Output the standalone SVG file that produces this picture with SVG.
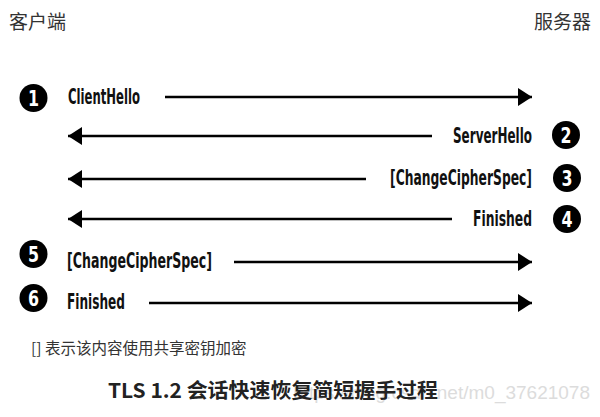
<svg xmlns="http://www.w3.org/2000/svg" width="600" height="417" viewBox="0 0 600 417">
<style>
.hdr{font-family:"Noto Sans CJK SC",sans-serif;font-size:19px;fill:#333;}
.lbl{font-family:"Liberation Sans Narrow","DejaVu Sans Condensed","Liberation Sans",sans-serif;font-weight:bold;font-size:22px;fill:#111;}
.num{font-family:"Liberation Sans Narrow","DejaVu Sans Condensed","Liberation Sans",sans-serif;font-weight:bold;font-size:22px;fill:#fff;text-anchor:middle;}
.dot{fill:#000;}
.msg{stroke:#000;stroke-width:2.6;fill:none;}
.cap{font-family:"Noto Sans CJK SC",sans-serif;font-size:15.5px;fill:#333;}
.ttl{font-family:"Noto Sans CJK SC",sans-serif;font-weight:bold;font-size:20px;fill:#222;}
.wm{font-family:"Liberation Sans",sans-serif;font-size:19px;fill:#dcdcdc;}
</style>
<defs>
<marker id="ah" markerUnits="userSpaceOnUse" markerWidth="15" markerHeight="20" refX="14" refY="10" orient="auto">
<path d="M0,1 L14,10 L0,19 Z" fill="#000"/>
</marker>
</defs>
<rect width="600" height="417" fill="#fff"/>
<g id="client"><text class="hdr" x="9" y="29">客户端</text></g>
<g id="server"><text class="hdr" x="591" y="29" text-anchor="end">服务器</text></g>

<g id="connectors">
<line class="msg" x1="165" y1="97" x2="532" y2="97" marker-end="url(#ah)"/>
<line class="msg" x1="432" y1="136" x2="68" y2="136" marker-end="url(#ah)"/>
<line class="msg" x1="366" y1="179" x2="68" y2="179" marker-end="url(#ah)"/>
<line class="msg" x1="452" y1="219" x2="68" y2="219" marker-end="url(#ah)"/>
<line class="msg" x1="234" y1="262" x2="532" y2="262" marker-end="url(#ah)"/>
<line class="msg" x1="149" y1="303" x2="532" y2="303" marker-end="url(#ah)"/>
</g>

<g id="step1">
<circle class="dot" cx="33.5" cy="98" r="14"/><text class="num" transform="translate(33.5,106) scale(0.8,1)">1</text>
<text class="lbl" transform="translate(68,104) scale(0.55,1)" x="0" y="0" textLength="130.9" lengthAdjust="spacingAndGlyphs">ClientHello</text>
</g>
<g id="step2">
<circle class="dot" cx="566" cy="135" r="14"/><text class="num" transform="translate(566,143) scale(0.8,1)">2</text>
<text class="lbl" transform="translate(453,143) scale(0.55,1)" x="0" y="0" textLength="143.6" lengthAdjust="spacingAndGlyphs">ServerHello</text>
</g>
<g id="step3">
<circle class="dot" cx="567" cy="178" r="14"/><text class="num" transform="translate(567,186) scale(0.8,1)">3</text>
<text class="lbl" transform="translate(390,185) scale(0.55,1)" x="0" y="0" textLength="258.2" lengthAdjust="spacingAndGlyphs">[ChangeCipherSpec]</text>
</g>
<g id="step4">
<circle class="dot" cx="567" cy="219" r="14"/><text class="num" transform="translate(567,227) scale(0.8,1)">4</text>
<text class="lbl" transform="translate(473,226) scale(0.55,1)" x="0" y="0" textLength="107.3" lengthAdjust="spacingAndGlyphs">Finished</text>
</g>
<g id="step5">
<circle class="dot" cx="33.5" cy="254" r="14"/><text class="num" transform="translate(33.5,262) scale(0.8,1)">5</text>
<text class="lbl" transform="translate(67,268) scale(0.55,1)" x="0" y="0" textLength="263.6" lengthAdjust="spacingAndGlyphs">[ChangeCipherSpec]</text>
</g>
<g id="step6">
<circle class="dot" cx="33.5" cy="298" r="14"/><text class="num" transform="translate(33.5,306) scale(0.8,1)">6</text>
<text class="lbl" transform="translate(67,309) scale(0.55,1)" x="0" y="0" textLength="105.5" lengthAdjust="spacingAndGlyphs">Finished</text>
</g>

<text class="cap" x="31" y="354">[] 表示该内容使用共享密钥加密</text>
<text class="wm" x="590" y="399" text-anchor="end">https://blog.csdn.net/m0_37621078</text>
<text class="ttl" x="108" y="398" textLength="330" lengthAdjust="spacingAndGlyphs">TLS 1.2 会话快速恢复简短握手过程</text>
</svg>
